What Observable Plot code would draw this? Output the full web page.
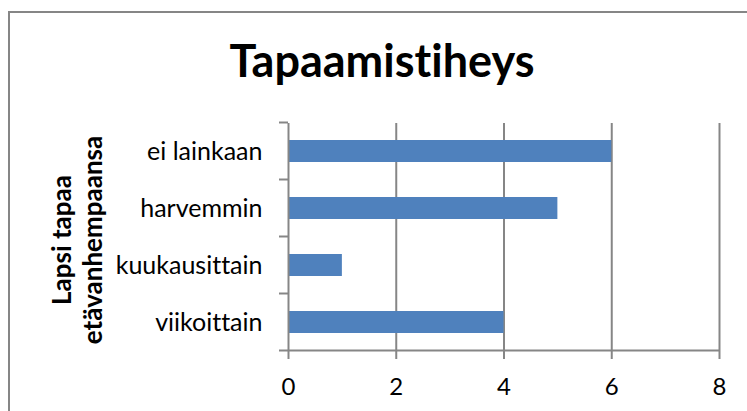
<!DOCTYPE html>
<html><head><meta charset="utf-8">
<script src="https://cdn.jsdelivr.net/npm/d3@7"></script>
<script src="https://cdn.jsdelivr.net/npm/@observablehq/plot@0.6"></script>
<style>body{margin:0;background:#fff} svg{display:block} svg text{font-variant-ligatures:none;font-feature-settings:"liga" 0,"clig" 0}</style>
</head><body><div id="chart"></div>
<script>
const categories = ["ei lainkaan", "harvemmin", "kuukausittain", "viikoittain"];
const values = [6, 5, 1, 4];
const xTicks = [0, 2, 4, 6, 8];
const title = "Tapaamistiheys";
const yTitleLines = ["Lapsi tapaa", "etävanhempaansa"];

const data = categories.map((c, i) => ({category: c, value: values[i]}));
const gray = "#868686";
const padInner = 0.613, padOuter = 0.3065;

const chart = Plot.plot({
  width: 747, height: 411,
  marginLeft: 288, marginRight: 28, marginTop: 123, marginBottom: 60,
  style: {fontFamily: "Lato, sans-serif", fontSize: "25px", color: "#000", background: "#fff"},
  x: {domain: [0, 8], ticks: xTicks, label: null},
  y: {domain: categories, paddingInner: padInner, paddingOuter: padOuter, label: null},
  marks: [
    Plot.ruleX(xTicks.filter(d => d > 0), {stroke: gray, strokeWidth: 2}),
    Plot.barX(data, {x: "value", y: "category", fill: "#4F81BD"}),
    Plot.ruleX([0], {stroke: gray, strokeWidth: 2}),
    Plot.axisX({ticks: xTicks, tickSize: 8, tickPadding: 18, stroke: gray, strokeWidth: 2, fill: "#000", fontSize: 24, tickFormat: d => String(d), label: null}),
    Plot.axisY({tickSize: 0, tickPadding: 26, fontSize: 25, fill: "#000", label: null})
  ]
});
document.getElementById("chart").appendChild(chart);

const svg = d3.select(chart);
const sx = chart.scale("x"), sy = chart.scale("y");
const n = categories.length;
const step = sy.step || (sy.range[1] - sy.range[0]) / (n - padInner + 2 * padOuter);
const bw = sy.bandwidth || step * (1 - padInner);
const x0 = sx.apply(0), x8 = sx.apply(xTicks[xTicks.length - 1]);
const bounds = categories.map(c => sy.apply(c) - (step - bw) / 2);
const bottom = bounds[n - 1] + step;
const g = svg.append("g").attr("stroke", gray).attr("stroke-width", 2);
bounds.forEach(b => g.append("line").attr("x1", x0 - 9).attr("x2", x0).attr("y1", b).attr("y2", b));
g.append("line").attr("x1", x0 - 9).attr("x2", x8 + 1).attr("y1", bottom).attr("y2", bottom);

// chart border (left and top visible)
svg.append("path").attr("d", "M9,411V12H747").attr("fill", "none").attr("stroke", gray).attr("stroke-width", 2);

// title
svg.append("text").text(title)
  .attr("x", 382).attr("y", 77).attr("text-anchor", "middle")
  .attr("font-family", "Lato, sans-serif").attr("font-weight", "bold").attr("font-size", 45).attr("fill", "#000");

// y axis title
const yt = svg.append("text").attr("transform", "translate(71,240) rotate(-90)")
  .attr("text-anchor", "middle").attr("font-family", "Lato, sans-serif")
  .attr("font-weight", "bold").attr("font-size", 26).attr("fill", "#000");
yTitleLines.forEach((l, i) => yt.append("tspan").attr("x", 0).attr("y", i * 31).text(l));
</script>
</body></html>
